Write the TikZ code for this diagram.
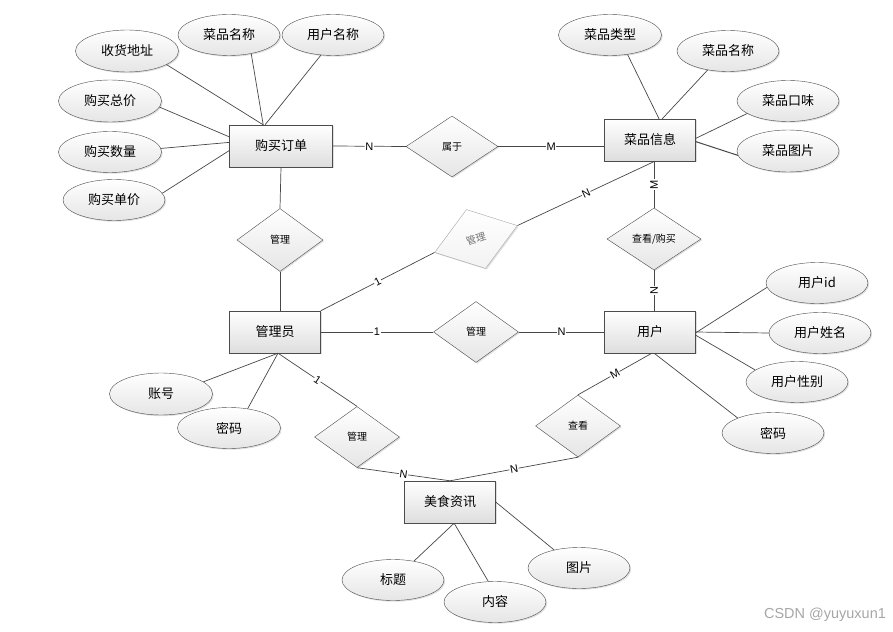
\documentclass[tikz,border=0pt]{standalone}
\usepackage{fontspec}
\newfontfamily\cjk{Noto Sans CJK SC}
\newfontfamily\lat{Liberation Sans}
\usetikzlibrary{shapes.geometric,shadows}
\begin{document}
\begin{tikzpicture}[x=1pt,y=-1pt,
  shd/.style={drop shadow={shadow xshift=1.2pt,shadow yshift=-1.2pt,opacity=.25}},
  ent/.style={rectangle, draw=black!70, top color=white, bottom color=black!13, minimum width=91pt, minimum height=42pt, inner sep=0pt, font=\cjk\fontsize{13}{15}\selectfont, shd},
  attr/.style={ellipse, draw=black!70, top color=white, bottom color=black!10, minimum width=102pt, minimum height=41pt, inner sep=0pt, font=\cjk\fontsize{13}{15}\selectfont, shd},
  rel/.style={diamond, draw=black!70, top color=white, bottom color=black!10, minimum width=85pt, minimum height=61pt, inner sep=0pt, font=\cjk\fontsize{10}{12}\selectfont, shd},
  ln/.style={draw=black!72, line width=0.7pt},
  lab/.style={fill=white, inner sep=0.6pt, font=\lat\fontsize{11}{12}\selectfont, sloped},
  vlab/.style={fill=white, inner sep=0.6pt, font=\lat\fontsize{11}{12}\selectfont, rotate=90}
]
\useasboundingbox (0,0) rectangle (893,631);

% entities
\node[ent, minimum width=103pt] (A) at (281,146) {购买订单};
\node[ent] (B) at (650,140) {菜品信息};
\node[ent] (C) at (275,332) {管理员};
\node[ent] (D) at (650,332) {用户};
\node[ent] (E) at (450,502) {美食资讯};

% relationships
\node[rel, minimum width=92pt] (R1) at (452,146.5) {属于};
\node[rel, minimum width=86pt, minimum height=63pt] (R2) at (280,240) {管理};
\node[rel, minimum width=87pt, minimum height=62pt, rotate=18, draw=black!35, bottom color=black!5, text=black!55] (R3) at (476,239) {管理};
\node[rel] (R4) at (476,332) {管理};
\node[rel, minimum width=94pt, minimum height=62pt] (R5) at (654,239) {查看/购买};
\node[rel] (R6) at (357,437) {管理};
\node[rel, minimum height=62pt] (R7) at (578,426) {查看};

% attributes
\node[attr, minimum width=103pt, minimum height=42pt] (a1) at (127,51) {收货地址};
\node[attr] (a2) at (229,35) {菜品名称};
\node[attr] (a3) at (333,35) {用户名称};
\node[attr, minimum width=103pt, minimum height=42pt] (a4) at (110,101) {购买总价};
\node[attr, minimum width=103pt] (a5) at (110,152) {购买数量};
\node[attr] (a6) at (114,200) {购买单价};

\node[attr, minimum width=103pt] (b1) at (610,35) {菜品类型};
\node[attr] (b2) at (728,51) {菜品名称};
\node[attr] (b3) at (788,101) {菜品口味};
\node[attr, minimum height=42pt] (b4) at (788,151) {菜品图片};

\node[attr] (d1) at (817,283) {用户id};
\node[attr] (d2) at (820,333) {用户姓名};
\node[attr] (d3) at (797,382) {用户性别};
\node[attr] (d4) at (773,433) {密码};

\node[attr, minimum width=103pt, minimum height=42pt] (c1) at (161,394) {账号};
\node[attr, minimum width=103pt] (c2) at (229,428) {密码};

\node[attr] (e1) at (393,580) {标题};
\node[attr] (e2) at (495,602) {内容};
\node[attr] (e3) at (579,568) {图片};

% attribute lines
\draw[ln] (a1.-19) -- (A.130);
\draw[ln] (a2.-40) -- (A.130);
\draw[ln] (a3.-121) -- (A.127);
\draw[ln] (a4.-7) -- (A.170);
\draw[ln] (a5.4) -- (A.176);
\draw[ln] (a6.8) -- (A.-175);

\draw[ln] (b1.-48) -- (B.67);
\draw[ln] (b2.-137) -- (B.60);
\draw[ln] (b3.-163) -- (B.2);
\draw[ln, line width=1pt] (b4.-175) -- (B.-2);

\draw[ln] (d1.-175) -- (D.-1);
\draw[ln] (d2.180) -- (D.0);
\draw[ln] (d3.164) -- (D.-4);
\draw[ln] (d4.157) -- (D.-79);

\draw[ln] (c1.16) -- (C.-82);
\draw[ln] (c2.46) -- (C.-82);

\draw[ln] (e1.42) -- (E.-79);
\draw[ln] (e2.108) -- (E.-79);
\draw[ln] (e3.144) -- (E.east);

% relationship lines
\draw[ln] (A.east) -- node[lab]{N} (R1.west);
\draw[ln] (R1.east) -- node[lab]{M} (R1.east -| B.west);
\draw[ln] (A.south) -- (R2.north);
\draw[ln] (R2.south) -- (R2.south |- C.north);
\draw[ln] (C.north east) -- node[lab]{1} (R3.west);
\draw[ln] (R3.east) -- node[lab]{N} (B.-77);
\draw[ln] (C.east) -- node[lab]{1} (R4.west);
\draw[ln] (R4.east) -- node[lab]{N} (D.west);
\draw[ln] (R5.north |- B.south) -- node[vlab]{M} (R5.north);
\draw[ln] (R5.south) -- node[vlab]{N} (R5.south |- D.north);
\draw[ln] (C.-82) -- node[lab]{1} (R6.north);
\draw[ln] (R6.south) -- node[lab]{N} (E.north);
\draw[ln] (E.north) -- node[lab]{N} (R7.south);
\draw[ln] (R7.north) -- node[lab]{M} (D.-85);

% watermark
\node[font=\lat\fontsize{14.5}{16}\selectfont, text=black!35] (wm) at (825,615) {CSDN @yuyuxun1};
\end{tikzpicture}
\end{document}
